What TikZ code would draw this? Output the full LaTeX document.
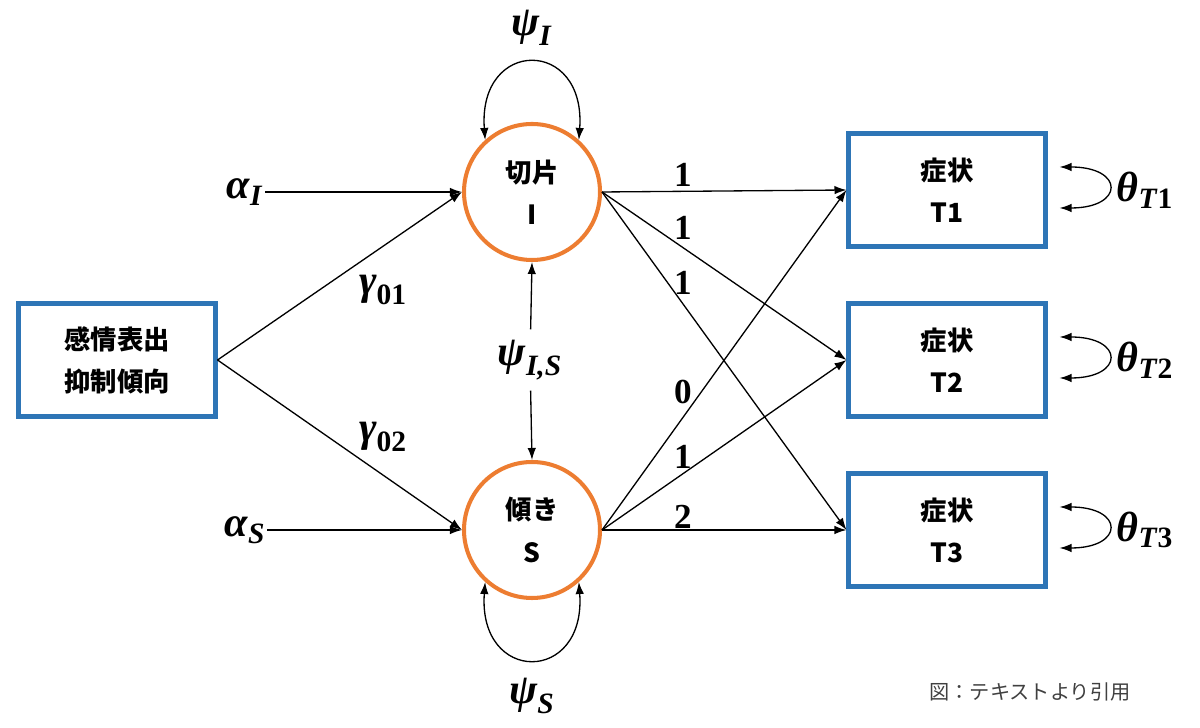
\documentclass[tikz,border=0pt]{standalone}
\usepackage{amsmath,amssymb}
\usepackage{fontspec}
\setmainfont{Liberation Serif}
\newfontfamily\cjk{Noto Sans CJK JP}
\usetikzlibrary{positioning,arrows.meta,calc}
\definecolor{SEMOrange}{HTML}{ED7D31}
\definecolor{SEMBlue}{HTML}{2E75B6}
\newcommand{\semsym}[2]{$\text{\bfseries\itshape #1}_{\text{\bfseries #2}}$}
\newcommand{\semit}[1]{\textit{#1}}

\begin{document}
\begin{tikzpicture}[
  latent/.style={circle, draw=SEMOrange, line width=2.3pt, minimum size=2.72cm, inner sep=0pt, align=center, font=\cjk\bfseries\fontsize{15}{24}\selectfont},
  obs/.style={rectangle, draw=SEMBlue, line width=2.3pt, minimum width=3.94cm, minimum height=2.26cm, align=center, font=\cjk\bfseries\fontsize{15}{24}\selectfont},
  lab/.style={inner sep=1pt, font=\fontsize{24}{28}\selectfont},
  num/.style={inner sep=1pt, font=\bfseries\fontsize{20}{24}\selectfont},
  arrow/.style={-{Latex[length=2.4mm,width=1.7mm]}, line width=0.75pt},
  arrow2/.style={{Latex[length=2.4mm,width=1.7mm]}-{Latex[length=2.4mm,width=1.7mm]}, line width=0.75pt},
]
\useasboundingbox (0,0) rectangle (24,14.56);
% nodes
\node[obs] (E) at (2.34,7.36) {感情表出\\抑制傾向};
\node[latent] (I) at (10.64,10.72) {切片\\I};
\node[latent] (S) at (10.64,3.96) {傾き\\S};
\node[obs] (T1) at (18.94,10.76) {症状\\T1};
\node[obs] (T2) at (18.94,7.36) {症状\\T2};
\node[obs] (T3) at (18.94,3.96) {症状\\T3};
% parameters
\node[lab] (aI) at (4.9,10.72) {\semsym{α}{\semit{I}}};
\node[lab] (aS) at (4.9,3.96) {\semsym{α}{\semit{S}}};
\node[lab] (g01) at (7.66,8.76) {\semsym{γ}{01}};
\node[lab] (g02) at (7.66,5.82) {\semsym{γ}{02}};
\node[lab, inner ysep=0.2cm] (pIS) at (10.6,7.36) {\semsym{ψ}{\semit{I,S}}};
\node[lab] (pI) at (10.64,14.0) {\semsym{ψ}{\semit{I}}};
\node[lab] (pS) at (10.64,0.64) {\semsym{ψ}{\semit{S}}};
% loadings
\node[num] (l1) at (13.66,11.06) {1};
\node[num] (l2) at (13.66,10.0) {1};
\node[num] (l3) at (13.66,8.9) {1};
\node[num] (l4) at (13.66,6.72) {0};
\node[num] (l5) at (13.66,5.42) {1};
\node[num] (l6) at (13.66,4.22) {2};
% paths
\draw[arrow] (aI) -- (I.west);
\draw[arrow] (aS) -- (S.west);
\draw[arrow] (E.east) -- (I.west);
\draw[arrow] (E.east) -- (S.west);
\draw[arrow] (pIS) -- (I.south);
\draw[arrow] (pIS) -- (S.north);
\foreach \t in {T1,T2,T3} {
  \draw[arrow] (I.east) -- (\t.west);
  \draw[arrow] (S.east) -- (\t.west);
}
\draw[arrow2] (I.132) .. controls +(-0.15,2.05) and +(0.15,2.05) .. (I.48);
\draw[arrow2] (S.228) .. controls +(-0.15,-2.05) and +(0.15,-2.05) .. (S.312);
% residuals
\foreach \t/\n/\y in {T1/1/10.76,T2/2/7.36,T3/3/3.96} {
  \coordinate (th\t a) at ($(\t.east)+(0.24,0.46)$);
  \coordinate (th\t b) at ($(\t.east)+(0.24,-0.36)$);
  \draw[arrow2] (th\t a) .. controls +(1.3,0) and +(1.3,0) .. (th\t b);
  \node[lab] (th\t) at (22.9,\y) {\semsym{θ}{\semit{T}\n}};
}
\node[font=\cjk\fontsize{11.5}{14}\selectfont, text=black!75] (cap) at (20.6,0.72) {図：テキストより引用};
\end{tikzpicture}
\end{document}
